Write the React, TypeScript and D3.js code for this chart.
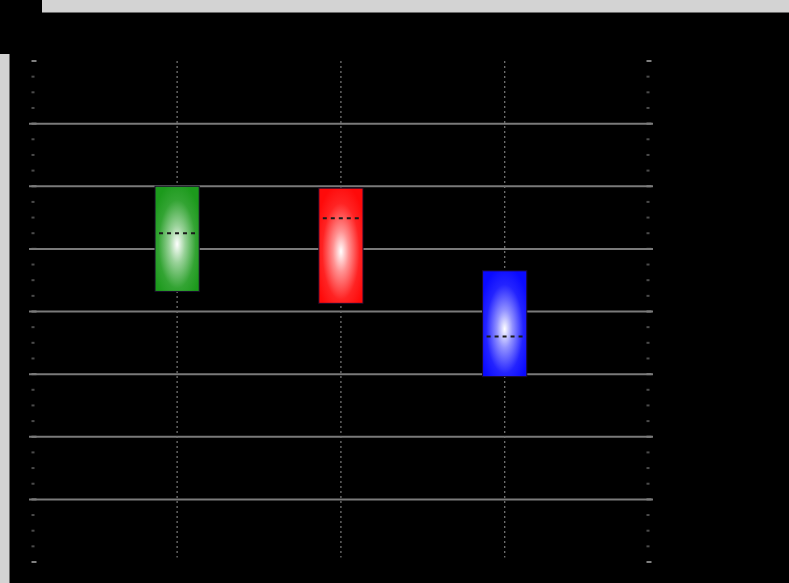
import { useRef, useEffect } from 'react';
import * as d3 from 'd3';

// box data (y axis 0..8)
const categories = [1, 2, 3];
const boxTops = [6.0, 5.97, 4.65];
const boxBottoms = [4.32, 4.13, 2.96];
const medians = [5.25, 5.49, 3.6];
const boxColors = ['#1c9a1c', '#ff0a0a', '#0a0aff'];
const yMajorTicks = [0, 1, 2, 3, 4, 5, 6, 7, 8];

const width = 789;
const height = 583;

export default function App() {
  const gRef = useRef<SVGGElement>(null);

  const x = d3.scaleLinear([0.12, 3.875], [33, 648]);
  const y = d3.scaleLinear([0, 8], [562, 61]);
  const halfW = 0.135;

  useEffect(() => {
    const g = d3.select(gRef.current);
    g.selectAll('*').remove();

    // minor tick dots on left and right edges
    const minor = d3.range(0, 8.001, 0.25);
    [x.range()[0], x.range()[1]].forEach((xx) => {
      g.append('g')
        .selectAll('rect')
        .data(minor)
        .join('rect')
        .attr('x', xx - 1.5)
        .attr('y', (d) => y(d) - 1)
        .attr('width', (d) => (Number.isInteger(d) ? 5 : 3))
        .attr('height', 2)
        .attr('fill', (d) => (Number.isInteger(d) ? '#808080' : '#4a4a4a'));
    });

    // horizontal grid lines at interior majors
    g.append('g')
      .selectAll('line')
      .data(yMajorTicks.slice(1, -1))
      .join('line')
      .attr('x1', 29)
      .attr('x2', 653)
      .attr('y1', (d) => y(d))
      .attr('y2', (d) => y(d))
      .attr('stroke', '#7a7a7a')
      .attr('stroke-width', 2);

    // vertical dotted lines
    g.append('g')
      .selectAll('line')
      .data(categories)
      .join('line')
      .attr('x1', (d) => x(d))
      .attr('x2', (d) => x(d))
      .attr('y1', y(8))
      .attr('y2', y(0.07))
      .attr('stroke', '#707070')
      .attr('stroke-width', 1.3)
      .attr('stroke-dasharray', '2,3');

    // gradients
    const defs = g.append('defs');
    boxColors.forEach((c, i) => {
      const grad = defs
        .append('radialGradient')
        .attr('id', `grad${i}`)
        .attr('cx', '0.5')
        .attr('cy', '0.55')
        .attr('r', '0.6');
      grad.append('stop').attr('offset', '0%').attr('stop-color', '#ffffff');
      grad.append('stop').attr('offset', '30%').attr('stop-color', d3.interpolateRgb('#ffffff', c)(0.45));
      grad.append('stop').attr('offset', '70%').attr('stop-color', d3.interpolateRgb('#ffffff', c)(0.9));
      grad.append('stop').attr('offset', '100%').attr('stop-color', c);
    });

    // boxes
    g.append('g')
      .selectAll('rect')
      .data(categories)
      .join('rect')
      .attr('x', (d) => x(d - halfW))
      .attr('y', (_, i) => y(boxTops[i]))
      .attr('width', (d) => x(d + halfW) - x(d - halfW))
      .attr('height', (_, i) => y(boxBottoms[i]) - y(boxTops[i]))
      .attr('fill', (_, i) => `url(#grad${i})`)
      .attr('stroke', '#1a0a2a')
      .attr('stroke-width', 1);

    // medians
    g.append('g')
      .selectAll('line')
      .data(categories)
      .join('line')
      .attr('x1', (d) => x(d - halfW) + 4)
      .attr('x2', (d) => x(d + halfW) - 4)
      .attr('y1', (_, i) => y(medians[i]))
      .attr('y2', (_, i) => y(medians[i]))
      .attr('stroke', '#1a1a1a')
      .attr('stroke-width', 2)
      .attr('stroke-dasharray', '4,4');
  }, [x, y]);

  return (
    <svg
      width={width}
      height={height}
      style={{ position: 'absolute', left: 0, top: 0, display: 'block' }}
    >
      <rect x={0} y={0} width={width} height={height} fill="#000" />
      <rect x={42} y={0} width={width - 42} height={12.5} fill="#d3d3d3" />
      <rect x={0} y={54} width={9.5} height={height - 54} fill="#d3d3d3" />
      <g ref={gRef} />
    </svg>
  );
}
